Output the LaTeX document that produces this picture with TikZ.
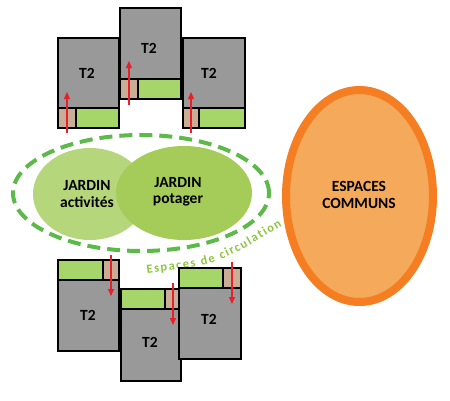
\documentclass[tikz,border=0pt]{standalone}
\usepackage{fontspec}
\setmainfont{Carlito}
\usetikzlibrary{arrows.meta,decorations.text}
\definecolor{gris}{HTML}{999999}
\definecolor{tan}{HTML}{C9AD95}
\definecolor{vertcl}{HTML}{A6D56A}
\definecolor{vertA}{HTML}{B6D67C}
\definecolor{vertP}{HTML}{A5CC59}
\definecolor{vertdash}{HTML}{5DB94A}
\definecolor{vertTxt}{HTML}{8DC63F}
\definecolor{orbord}{HTML}{F47E21}
\definecolor{orfill}{HTML}{F5A95B}
\definecolor{rouge}{HTML}{E8202A}
\tikzset{
  greybox/.style={fill=gris,draw=black,line width=2.5pt},
  tanbox/.style={fill=tan,draw=black,line width=2.5pt},
  greenbox/.style={fill=vertcl,draw=black,line width=2.5pt},
  lbl/.style={font=\bfseries\fontsize{15.5}{16.5}\selectfont,text=black,align=center,inner sep=0pt},
  entry/.style={draw=rouge,line width=1.3pt,-{Triangle[length=7pt,width=6pt]}},
}
\begin{document}
\begin{tikzpicture}[x=1pt,y=-1pt]
\useasboundingbox (0,0) rectangle (450,400);
\fill[white] (0,0) rectangle (450,400);
% dashed circulation ellipse
\draw[vertdash,line width=4pt,dash pattern=on 13pt off 7pt] (141,193) ellipse [x radius=128pt,y radius=58pt];
% gardens
\fill[vertA] (90,194) ellipse [x radius=57pt,y radius=46pt];
\fill[vertP] (184,193) ellipse [x radius=68pt,y radius=47pt];
\node[lbl] (ja) at (87,194) {JARDIN\\activités};
\node[lbl] (jp) at (178,192) {JARDIN\\potager};
\coordinate (cs) at (147,273);
\coordinate (cc) at (217,265);
\coordinate (ce) at (282,226);
\path[decorate,decoration={text along path,text align={fit to path},text color=vertTxt,
  text={|\bfseries\fontsize{12.5}{13.5}\selectfont|Espaces de circulation}}]
  (cs) .. controls (cc) .. (ce);
% common spaces
\draw[orbord,fill=orfill,line width=8pt] (359.5,196) ellipse [x radius=73.5pt,y radius=106pt];
\node[lbl] (ec) at (359,195) {ESPACES\\COMMUNS};
% top units
\draw[greybox] (58,38) rectangle (119,108);
\draw[tanbox] (58,108) rectangle (76,128);
\draw[greenbox] (76,108) rectangle (119,128);
\node[lbl] (t1) at (87,73) {T2};
\draw[greybox] (120,8) rectangle (181,79);
\draw[tanbox] (120,79) rectangle (138,99);
\draw[greenbox] (138,79) rectangle (181,99);
\node[lbl] (t2) at (149,48) {T2};
\draw[greybox] (183,38) rectangle (245,108);
\draw[tanbox] (183,108) rectangle (199,128);
\draw[greenbox] (199,108) rectangle (245,128);
\node[lbl] (t3) at (209,73) {T2};
\coordinate (a1s) at (67,133); \coordinate (a1e) at (67,92);
\coordinate (a2s) at (129,105); \coordinate (a2e) at (129,61);
\coordinate (a3s) at (191,133); \coordinate (a3e) at (191,92);
\draw[entry] (a1s) -- (a1e);
\draw[entry] (a2s) -- (a2e);
\draw[entry] (a3s) -- (a3e);
% bottom units
\draw[greybox] (58,280) rectangle (119,351);
\draw[greenbox] (58,260) rectangle (103,280);
\draw[tanbox] (103,260) rectangle (119,280);
\node[lbl] (b1) at (88,315) {T2};
\draw[greybox] (121,309) rectangle (181,381);
\draw[greenbox] (121,289) rectangle (165,309);
\draw[tanbox] (165,289) rectangle (181,309);
\node[lbl] (b2) at (150,342) {T2};
\draw[greybox] (179,288) rectangle (241,359);
\draw[greenbox] (179,268) rectangle (223,288);
\draw[tanbox] (223,268) rectangle (241,288);
\node[lbl] (b3) at (209,319) {T2};
\coordinate (c1s) at (111,255); \coordinate (c1e) at (111,296);
\coordinate (c2s) at (173,283); \coordinate (c2e) at (173,325);
\coordinate (c3s) at (232,262); \coordinate (c3e) at (232,304);
\draw[entry] (c1s) -- (c1e);
\draw[entry] (c2s) -- (c2e);
\draw[entry] (c3s) -- (c3e);
\end{tikzpicture}
\end{document}
